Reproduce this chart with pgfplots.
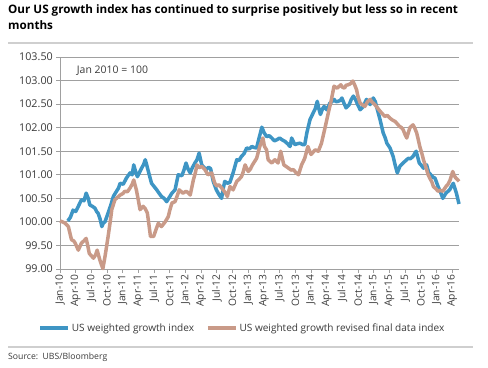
\documentclass[border=0pt]{standalone}
\usepackage{pgfplots}
\pgfplotsset{compat=1.18}
\usepackage{fontspec}
\setmainfont{Open Sans}
\definecolor{ubsblue}{HTML}{3E95C4}
\definecolor{ubstan}{HTML}{C99A88}
\definecolor{gridgray}{HTML}{A0A0A0}
\definecolor{rulegray}{HTML}{CFCFCF}
\definecolor{txt}{HTML}{3A3A3A}
\begin{document}
\begin{tikzpicture}[x=1bp,y=1bp]
\path[use as bounding box] (0,0) rectangle (488,367);
\node[anchor=north west, align=left, font=\bfseries\fontsize{11.7}{17}\selectfont, inner sep=0pt] at (8,363) {Our US growth index has continued to surprise positively but less so in recent\\months};
\draw[rulegray, line width=1.5bp] (8,324) -- (473,324);
\draw[rulegray, line width=1.5bp] (8,20) -- (473,20);
\node[anchor=west, inner sep=0pt, font=\fontsize{8.7}{10}\selectfont, text=txt] at (8,10) {Source:\ \ UBS/Bloomberg};
\begin{axis}[
  at={(60bp,98bp)}, anchor=south west,
  scale only axis, width=399bp, height=212bp,
  xmin=0, xmax=76.3, ymin=99, ymax=103.5,
  axis x line*=bottom, axis y line*=left,
  axis line style={gridgray, line width=0.8bp},
  every tick/.style={gridgray, line width=0.8bp},
  tick align=outside, major tick length=4bp,
  ytick={99,99.5,...,103.5},
  ymajorgrids, grid style={gridgray, line width=0.9bp},
  xtick={0,3,...,75},
  xticklabels={Jan-10,Apr-10,Jul-10,Oct-10,Jan-11,Apr-11,Jul-11,Oct-11,Jan-12,Apr-12,Jul-12,Oct-12,Jan-13,Apr-13,Jul-13,Oct-13,Jan-14,Apr-14,Jul-14,Oct-14,Jan-15,Apr-15,Jul-15,Oct-15,Jan-16,Apr-16},
  x tick label style={rotate=90, anchor=east, font=\fontsize{10.3}{12}\selectfont, text=txt, inner sep=1.5bp},
  y tick label style={font=\fontsize{10.8}{12}\selectfont, text=txt, inner sep=3bp},
  /pgf/number format/assume math mode=true,
  yticklabel style={/pgf/number format/.cd, fixed, fixed zerofill, precision=2},
  legend columns=2,
  legend style={draw=none, at={(0.457,-0.278)}, anchor=center, font=\fontsize{10.1}{12}\selectfont, text=txt,
    /tikz/every even column/.append style={column sep=10bp}, inner sep=0pt},
  legend image code/.code={\draw[#1, line width=3.5bp] (0bp,0bp) -- (28bp,0bp);},
  clip=false,
]
\addplot[ubsblue, line width=3.5bp, line join=round] coordinates {
(1.5,100.02)(2.0,100.10)(2.5,100.25)(3.0,100.22)(3.5,100.33)(4.1,100.47)(4.6,100.45)(5.0,100.61)(5.4,100.50)(5.7,100.36)
(6.2,100.33)(6.7,100.29)(7.0,100.22)(7.3,100.18)(7.7,100.05)(8.0,99.90)(8.3,99.98)(8.6,100.00)(9.2,100.19)(9.7,100.35)
(10.2,100.54)(10.8,100.65)(11.2,100.72)(11.5,100.82)(12.1,100.80)(12.7,100.93)(13.4,101.04)(13.8,101.00)(14.1,101.21)(14.5,101.05)
(14.8,100.96)(15.2,101.05)(15.6,101.14)(16.0,101.22)(16.3,101.32)(16.6,101.20)(16.9,101.07)(17.5,100.82)(18.0,100.75)(18.5,100.68)
(19.0,100.60)(19.4,100.54)(19.9,100.50)(20.4,100.43)(20.9,100.52)(21.4,100.61)(22.0,100.68)(22.6,101.00)(23.3,100.98)(23.7,101.10)
(24.1,101.25)(24.5,101.12)(24.9,101.04)(25.3,101.15)(25.8,101.25)(26.2,101.32)(26.6,101.46)(27.1,101.21)(27.6,101.15)(28.0,101.11)
(28.4,101.16)(28.8,101.13)(29.3,100.86)(29.9,100.68)(30.4,100.58)(30.9,100.50)(31.2,100.70)(31.5,100.86)(32.0,100.82)(32.5,100.84)
(33.1,101.04)(33.8,101.32)(34.2,101.30)(34.7,101.39)(35.2,101.45)(35.7,101.57)(36.2,101.55)(36.7,101.60)(37.1,101.58)(37.6,101.57)
(38.0,101.75)(38.6,102.01)(39.0,101.90)(39.5,101.81)(40.0,101.83)(40.5,101.78)(41.0,101.72)(41.4,101.74)(42.0,101.78)(42.5,101.74)
(43.0,101.71)(43.5,101.66)(44.0,101.60)(44.3,101.78)(44.9,101.64)(45.4,101.66)(45.9,101.67)(46.4,101.64)(46.8,101.64)(47.2,101.89)
(47.8,102.17)(48.4,102.31)(48.8,102.40)(49.2,102.56)(49.5,102.40)(49.8,102.28)(50.2,102.40)(50.5,102.45)(51.0,102.38)(51.6,102.52)
(52.0,102.55)(52.4,102.60)(52.8,102.55)(53.2,102.56)(53.6,102.58)(53.9,102.63)(54.3,102.52)(54.7,102.42)(55.3,102.49)(55.7,102.60)
(56.1,102.67)(56.5,102.60)(56.8,102.52)(57.4,102.38)(58.0,102.45)(58.6,102.60)(59.3,102.49)(59.9,102.63)(60.3,102.55)(60.6,102.42)
(61.2,102.17)(61.8,101.89)(62.2,101.78)(62.5,101.67)(63.1,101.57)(63.7,101.39)(64.1,101.20)(64.5,101.04)(65.0,101.18)(65.6,101.25)
(66.1,101.30)(66.6,101.35)(67.0,101.34)(67.5,101.39)(68.1,101.50)(68.7,101.25)(69.1,101.20)(69.5,101.14)(70.1,101.21)(70.5,101.05)
(70.9,101.00)(71.3,100.95)(71.7,100.93)(72.3,100.75)(72.8,100.62)(73.2,100.50)(73.8,100.61)(74.5,100.68)(75.2,100.82)(75.8,100.61)
(76.3,100.38)
};
\addlegendentry{US weighted growth index}
\addplot[ubstan, line width=3.5bp, line join=round] coordinates {
(0.0,100.02)(0.5,100.00)(1.0,99.97)(1.6,99.90)(2.2,99.62)(2.6,99.60)(2.9,99.55)(3.5,99.40)(4.1,99.55)(4.6,99.60)
(5.0,99.65)(5.3,99.50)(5.6,99.33)(6.0,99.28)(6.4,99.23)(6.8,99.30)(7.1,99.40)(7.6,99.20)(7.9,99.10)(8.2,99.01)
(8.6,99.26)(9.2,99.69)(9.6,100.00)(9.9,100.26)(10.5,100.47)(11.0,100.52)(11.5,100.57)(12.0,100.60)(12.4,100.65)(12.9,100.64)
(13.4,100.72)(13.8,100.80)(14.1,100.89)(14.6,100.68)(15.0,100.45)(15.3,100.26)(15.9,100.33)(16.3,100.28)(16.7,100.19)(17.0,99.95)
(17.3,99.69)(17.9,99.69)(18.4,99.85)(18.8,99.97)(19.4,99.90)(20.1,100.00)(20.7,100.11)(21.0,100.25)(21.4,100.40)(22.0,100.43)
(22.4,100.55)(22.8,100.68)(23.5,100.61)(24.1,100.65)(24.5,100.62)(24.9,100.57)(25.5,100.89)(25.9,101.05)(26.2,101.21)(26.6,101.15)
(27.1,101.18)(27.7,101.11)(28.3,101.00)(29.0,101.04)(29.6,100.82)(30.0,100.76)(30.4,100.79)(31.2,100.68)(31.6,100.62)(32.0,100.54)
(32.5,100.75)(33.1,100.68)(33.8,100.86)(34.2,100.90)(34.7,100.96)(35.0,101.05)(35.4,101.21)(36.0,101.07)(36.4,101.12)(36.8,101.21)
(37.2,101.28)(37.6,101.35)(38.2,101.60)(38.8,101.78)(39.1,101.60)(39.5,101.53)(39.8,101.32)(40.5,101.25)(41.1,101.32)(41.7,101.25)
(42.2,101.50)(42.8,101.21)(43.2,101.18)(43.7,101.14)(44.2,101.10)(44.6,101.11)(45.1,101.05)(45.6,101.00)(46.2,101.21)(46.8,101.35)
(47.4,101.60)(48.0,101.43)(48.4,101.48)(48.8,101.53)(49.4,101.50)(50.0,101.67)(50.6,101.96)(51.3,102.31)(51.9,102.60)(52.4,102.88)
(53.0,102.84)(53.4,102.88)(53.7,102.91)(54.0,102.86)(54.4,102.84)(54.7,102.90)(55.1,102.91)(55.5,102.93)(56.0,102.99)(56.3,102.92)
(56.7,102.81)(57.0,102.65)(57.4,102.52)(57.9,102.48)(58.3,102.45)(58.8,102.55)(59.3,102.60)(59.7,102.54)(60.2,102.49)(60.7,102.42)
(61.2,102.35)(61.6,102.30)(62.1,102.24)(62.6,102.26)(63.1,102.20)(63.6,102.16)(64.1,102.13)(64.5,102.08)(64.9,102.03)(65.3,102.00)
(65.6,101.96)(66.0,101.85)(66.3,101.78)(66.9,102.00)(67.5,102.06)(67.8,102.00)(68.2,101.89)(68.5,101.75)(68.8,101.60)(69.2,101.45)
(69.5,101.32)(70.1,101.11)(70.4,101.00)(70.7,100.93)(71.1,100.85)(71.4,100.75)(71.9,100.70)(72.3,100.65)(72.7,100.67)(73.2,100.65)
(73.5,100.70)(73.8,100.75)(74.2,100.80)(74.6,100.89)(75.1,101.07)(75.4,100.98)(75.7,100.93)(76.0,100.90)(76.3,100.86)
};
\addlegendentry{US weighted growth revised final data index}
\node[anchor=west, inner sep=0pt, font=\fontsize{10.5}{12}\selectfont, text=txt] at (axis cs:3.2,103.21) {Jan 2010 = 100};
\end{axis}
\end{tikzpicture}
\end{document}
